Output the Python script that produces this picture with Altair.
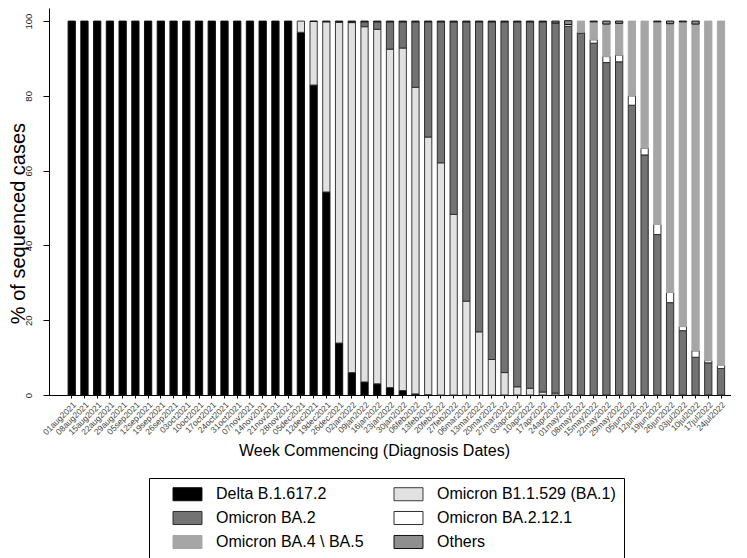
import altair as alt
import pandas as pd

weeks = ["01aug2021", "08aug2021", "15aug2021", "22aug2021", "29aug2021", "05sep2021",
         "12sep2021", "19sep2021", "26sep2021", "03oct2021", "10oct2021", "17oct2021",
         "24oct2021", "31oct2021", "07nov2021", "14nov2021", "21nov2021", "28nov2021",
         "05dec2021", "12dec2021", "19dec2021", "26dec2021", "02jan2022", "09jan2022",
         "16jan2022", "23jan2022", "30jan2022", "06feb2022", "13feb2022", "20feb2022",
         "27feb2022", "06mar2022", "13mar2022", "20mar2022", "27mar2022", "03apr2022",
         "10apr2022", "17apr2022", "24apr2022", "01may2022", "08may2022", "15may2022",
         "22may2022", "29may2022", "05jun2022", "12jun2022", "19jun2022", "26jun2022",
         "03jul2022", "10jul2022", "17jul2022", "24jul2022"]

delta = [100] * 18 + [97.0, 82.9, 54.3, 13.9, 6.0, 3.5, 3.0, 2.0, 1.2, 0.3, 0.1] + [0] * 23
ba1 = [0] * 18 + [3.0, 17.0, 45.5, 85.8, 93.6, 95.0, 94.8, 90.5, 91.6, 82.0, 68.9, 62.1,
                  48.3, 25.1, 16.9, 9.5, 6.0, 2.2, 1.8, 0.8, 0.5, 0.1] + [0] * 12
ba2 = [0] * 21 + [0.1, 0.2, 1.3, 2.0, 7.3, 7.0, 17.5, 30.8, 37.7, 51.5, 74.7, 82.9, 90.3,
                  93.8, 97.6, 98.0, 99.0, 99.0, 98.5, 96.8, 94.1, 88.9, 89.1, 77.5, 64.2,
                  42.9, 24.7, 17.2, 10.1, 8.6, 7.1]
ba2121 = [0] * 39 + [0.5, 0.2, 0.9, 1.6, 1.8, 2.5, 1.8, 2.7, 2.7, 1.1, 1.7, 0.6, 0.8]
ba45 = [0] * 40 + [3.0, 4.8, 8.7, 8.5, 20.0, 34.0, 54.2, 71.9, 81.5, 87.4, 90.8, 92.1]
others = [0] * 19 + [0.1, 0.2, 0.2, 0.2, 0.2, 0.2, 0.2, 0.2, 0.2, 0.2, 0.2, 0.2, 0.2, 0.2,
                     0.2, 0.2, 0.2, 0.2, 0.2, 0.5, 1.0, 0, 0.2, 0.8, 0.6, 0, 0, 0.2, 0.7,
                     0.2, 0.8, 0, 0]

# stacking order (bottom to top)
variants = ["Delta B.1.617.2", "Omicron B1.1.529 (BA.1)", "Omicron BA.2",
            "Omicron BA.2.12.1", "Omicron BA.4 \\ BA.5", "Others"]
fills = ["#000000", "#e1e1e1", "#737373", "#ffffff", "#a6a6a6", "#8f8f8f"]
strokes = ["#111111", "#3a3a3a", "#2e2e2e", "#2e2e2e", "#a6a6a6", "#111111"]
# legend order (legend grid is filled column by column)
legend_order = [0, 2, 4, 1, 3, 5]
y_ticks = [0, 20, 40, 60, 80, 100]

series = [delta, ba1, ba2, ba2121, ba45, others]
rows = []
for i, w in enumerate(weeks):
    for k, s in enumerate(series):
        if s[i] > 0:
            rows.append({"week": w, "variant": variants[k], "order": k, "value": s[i]})
df = pd.DataFrame(rows)

leg_domain = [variants[k] for k in legend_order]
leg_fills = [fills[k] for k in legend_order]
leg_strokes = [strokes[k] for k in legend_order]

FONT = "Liberation Sans"

legend = alt.Legend(
    title=None, orient="none", legendX=100, legendY=470, columns=2,
    symbolType="M0,-0.9H4V0.9H0Z", symbolSize=210, symbolStrokeWidth=1,
    symbolOffset=8, labelOffset=35,
    labelFontSize=16, labelFont=FONT, labelColor="black", labelLimit=400,
    columnPadding=14, rowPadding=6, padding=8, strokeColor="black",
    symbolOpacity=1,
)

chart = alt.Chart(df).mark_bar(strokeWidth=1, opacity=1).encode(
    x=alt.X("week:N", sort=weeks,
            scale=alt.Scale(paddingInner=0.43, paddingOuter=1, align=0.75),
            axis=alt.Axis(title="Week Commencing (Diagnosis Dates)", labelAngle=-45,
                          labelFontSize=8.5, labelFont=FONT, labelColor="#444444",
                          labelPadding=2, tickSize=3, tickColor="black",
                          domainColor="black", titleFontSize=16, titleFont=FONT,
                          titleFontWeight="normal", titleColor="black",
                          titleX=325, titleY=60, titleBaseline="alphabetic",
                          titleAlign="center")),
    y=alt.Y("value:Q", stack="zero",
            scale=alt.Scale(domain=[0, 103.5], nice=False, zero=True),
            axis=alt.Axis(title="% of sequenced cases", values=y_ticks, grid=False,
                          labelAngle=-90, labelAlign="center", labelBaseline="bottom",
                          labelFontSize=9.5, labelFont=FONT, labelColor="#222222",
                          labelPadding=10, tickSize=6, tickColor="black",
                          domainColor="black", titleFontSize=20, titleFont=FONT,
                          titleFontWeight="normal", titleColor="black",
                          titleAngle=270, titleX=-25, titleY=215,
                          titleAlign="center", titleBaseline="alphabetic")),
    fill=alt.Fill("variant:N",
                  scale=alt.Scale(domain=leg_domain, range=leg_fills), legend=legend),
    stroke=alt.Stroke("variant:N",
                      scale=alt.Scale(domain=leg_domain, range=leg_strokes), legend=legend),
    order=alt.Order("order:Q", sort="ascending"),
).properties(
    width=682, height=387,
    padding={"left": 0, "top": 0, "right": 0, "bottom": 0},
    background="white",
).configure_view(stroke=None)

chart.save("out.html", embed_options={"renderer": "svg", "actions": False})
